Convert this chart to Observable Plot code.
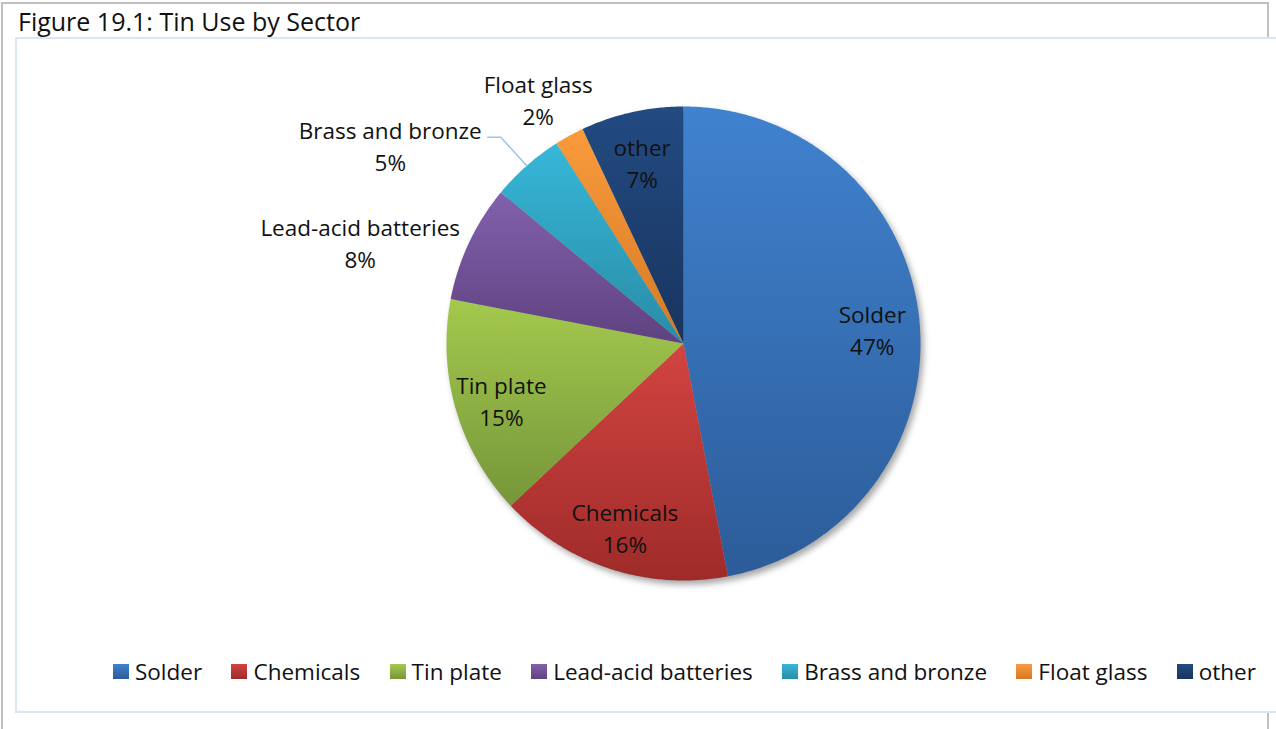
<!DOCTYPE html>
<html>
<head>
<meta charset="utf-8">
<script src="https://cdn.jsdelivr.net/npm/d3@7"></script>
<script src="https://cdn.jsdelivr.net/npm/@observablehq/plot@0.6"></script>
<style>
  body { margin: 0; background: #fff; font-family: "Open Sans", sans-serif; width: 1276px; height: 729px; overflow: hidden; position: relative; }
  #frame { position: absolute; left: 1px; top: 2px; width: 1264px; height: 740px; border: 2px solid #c0c0c0; border-bottom: none; }
  #title { position: absolute; left: 18px; top: 4px; font-size: 25px; color: #111; white-space: nowrap; }
  #box { position: absolute; left: 15px; top: 37px; width: 1280px; height: 672px; border: 2px solid #dce6f2; background: #fff; }
  #chart { position: absolute; left: 0; top: 0; }
  #legend { position: absolute; top: 656px; left: 113px; display: flex; align-items: center; font-size: 22.5px; color: #111; white-space: nowrap; }
  .item { display: flex; align-items: center; margin-right: 29.3px; }
  .sw { width: 16px; height: 15px; margin-right: 6px; }
</style>
</head>
<body>
<div id="frame"></div>
<div id="title">Figure 19.1: Tin Use by Sector</div>
<div id="box"></div>
<div id="chart"></div>
<div id="legend"></div>
<script>
// ---- data ----
const categories = ["Solder", "Chemicals", "Tin plate", "Lead-acid batteries", "Brass and bronze", "Float glass", "other"];
const shares = [47, 16, 15, 8, 5, 2, 7];
const colorsTop = ["#4082cf", "#d24441", "#a4c94d", "#8261ad", "#37b7d8", "#f99b3c", "#224b82"];
const colorsBottom = ["#2c5c99", "#9e2b29", "#76963a", "#5f4280", "#288ca6", "#d57925", "#19345e"];
const outsideLabels = ["Lead-acid batteries", "Brass and bronze", "Float glass"];

// ---- layout ----
const W = 1276, H = 729;
const cx = 683, cy = 343, R = 237;
const FS = 22.5;
const FONT = FS + "px 'Open Sans'";
const lineH = 32;
const textDy = 3;

const total = d3.sum(shares);
const pct = d3.format(".0%");
const canvas = document.createElement("canvas");
const ctx = canvas.getContext("2d");
ctx.font = FONT;
const tw = s => ctx.measureText(s).width;
const smooth = (a, b, v) => { const t = Math.min(1, Math.max(0, (v - a) / (b - a))); return t * t * (3 - 2 * t); };

// slices as polygons built from the shares
let acc = 0;
const slices = categories.map((c, i) => {
  const a0 = acc / total * 2 * Math.PI;
  acc += shares[i];
  const a1 = acc / total * 2 * Math.PI;
  return {c, i, a0, a1, mid: (a0 + a1) / 2};
});
const pt = (a, r) => ({x: cx + r * Math.sin(a), y: cy - r * Math.cos(a)});
const polys = slices.map(s => {
  const n = Math.max(4, Math.ceil((s.a1 - s.a0) / (Math.PI / 360)));
  const pts = [{...pt(0, 0), c: s.c}];
  for (let k = 0; k <= n; k++) pts.push({...pt(s.a0 + (s.a1 - s.a0) * k / n, R), c: s.c});
  pts.push({...pt(0, 0), c: s.c});
  return pts;
});

// labels: inside ones on the slice, outside ones in a box next to the rim ("best fit")
const labels = [];
const leaders = [];
const placedBoxes = [];
slices.slice().sort((a, b) => b.mid - a.mid).forEach(s => {
  const text = s.c + "\n" + pct(shares[s.i] / total);
  if (!outsideLabels.includes(s.c)) {
    const p = pt(s.mid, R * 0.8);
    labels.push({x: p.x, y: p.y, text});
    return;
  }
  const w = Math.max(tw(s.c), tw(pct(shares[s.i] / total)));
  const h = 2 * lineH;
  const sn = Math.sin(s.mid), cs = Math.cos(s.mid);
  const p = pt(s.mid, R + 10);
  const fx = Math.abs(sn) > 0.8 ? (sn < 0 ? 1 : 0) : 0.5 * (1 - sn);
  const fy = 0.5 + Math.sign(cs) * 0.5 * smooth(0.6, 0.9, Math.abs(cs));
  let box = {x0: p.x - fx * w, y0: p.y - fy * h};
  box.x1 = box.x0 + w; box.y1 = box.y0 + h;
  let moved = false;
  for (const b of placedBoxes) {
    if (box.x0 < b.x1 && box.x1 > b.x0 && box.y0 < b.y1 && box.y1 > b.y0) {
      const shift = sn < 0 ? box.x1 - b.x0 + 2 : -(b.x1 - box.x0 + 2);
      box = {x0: box.x0 - shift, x1: box.x1 - shift, y0: box.y0, y1: box.y1};
      moved = true;
    }
  }
  placedBoxes.push(box);
  labels.push({x: (box.x0 + box.x1) / 2, y: (box.y0 + box.y1) / 2, text});
  if (moved) {
    const e = pt(s.mid, R);
    const ly = (box.y0 + box.y1) / 2 + textDy - 8;
    leaders.push({x: box.x1 + 6, y: ly, c: s.c}, {x: box.x1 + 19, y: ly, c: s.c}, {x: e.x, y: e.y, c: s.c});
  }
});

const shadowData = [{x: cx, y: cy}];

const chart = Plot.plot({
  width: W, height: H,
  margin: 0,
  x: {domain: [0, W], range: [0, W], axis: null},
  y: {domain: [0, H], range: [0, H], axis: null},
  style: {background: "transparent", fontFamily: "'Open Sans', sans-serif"},
  marks: [
    Plot.dot(shadowData, {x: "x", y: "y", r: R, fill: "#000", fillOpacity: 0.35, dx: 3, dy: 4}),
    ...polys.map((p, i) => Plot.line(p, {x: "x", y: "y", fill: `url(#g${i})`, stroke: "none", curve: "linear"})),
    Plot.line(leaders, {x: "x", y: "y", z: "c", stroke: "#9dc3e6", strokeWidth: 1.5}),
    Plot.text(labels, {x: "x", y: "y", text: "text", fontSize: FS, lineHeight: lineH / FS, lineAnchor: "middle", textAnchor: "middle", fill: "#111", dy: textDy})
  ]
});

// gradients and shadow blur
const ns = "http://www.w3.org/2000/svg";
const defs = document.createElementNS(ns, "defs");
const mkGrad = (id, c0, c1) => {
  const g = document.createElementNS(ns, "linearGradient");
  g.setAttribute("id", id);
  g.setAttribute("x1", "0"); g.setAttribute("y1", "0"); g.setAttribute("x2", "0"); g.setAttribute("y2", "1");
  [[0, c0], [1, c1]].forEach(([o, c]) => {
    const st = document.createElementNS(ns, "stop");
    st.setAttribute("offset", o); st.setAttribute("stop-color", c);
    g.appendChild(st);
  });
  defs.appendChild(g);
};
categories.forEach((c, i) => mkGrad("g" + i, colorsTop[i], colorsBottom[i]));
const filt = document.createElementNS(ns, "filter");
filt.setAttribute("id", "blur");
filt.setAttribute("x", "-20%"); filt.setAttribute("y", "-20%"); filt.setAttribute("width", "140%"); filt.setAttribute("height", "140%");
const fb = document.createElementNS(ns, "feGaussianBlur");
fb.setAttribute("stdDeviation", "3");
filt.appendChild(fb);
defs.appendChild(filt);
chart.insertBefore(defs, chart.firstChild);
const dotG = chart.querySelector('g[aria-label="dot"]');
if (dotG) dotG.setAttribute("filter", "url(#blur)");
document.getElementById("chart").appendChild(chart);

// legend
const legend = document.getElementById("legend");
categories.forEach((c, i) => {
  const item = document.createElement("div");
  item.className = "item";
  const sw = document.createElement("div");
  sw.className = "sw";
  sw.style.background = `linear-gradient(${colorsTop[i]}, ${colorsBottom[i]})`;
  const t = document.createElement("span");
  t.textContent = c;
  item.appendChild(sw); item.appendChild(t);
  legend.appendChild(item);
});
</script>
</body>
</html>
